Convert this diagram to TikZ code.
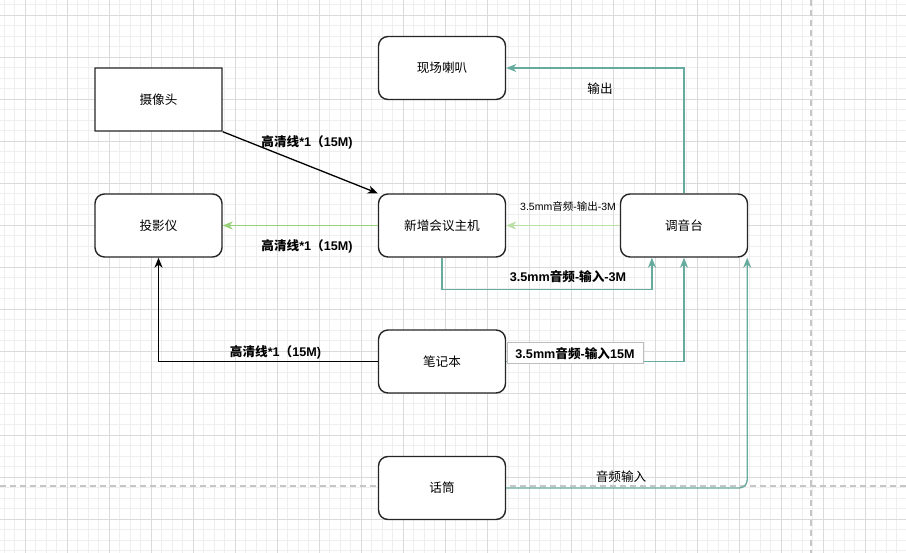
\documentclass[tikz,border=0pt]{standalone}
\usepackage{fontspec}
\setmainfont{Liberation Sans}
\newfontfamily\cjk{Noto Sans CJK SC}
\usetikzlibrary{arrows.meta,calc}
\definecolor{tealline}{HTML}{67AB9F}
\definecolor{greenA}{HTML}{97D077}
\definecolor{greenB}{HTML}{B9E0A5}
\definecolor{gridminor}{HTML}{EFEFEF}
\definecolor{gridmajor}{HTML}{DADADA}
\definecolor{pagebrk}{HTML}{C6C6C6}
\definecolor{lblborder}{HTML}{BDBDBD}
\begin{document}
\begin{tikzpicture}[x=1pt,y=-1pt,
  box/.style={draw=black!85, line width=1.4pt, fill=white, minimum width=127pt, minimum height=63pt, inner sep=0pt, font=\cjk\fontsize{12.6}{15}\selectfont},
  sbox/.style={box, rounded corners=0.05pt},
  rbox/.style={box, rounded corners=9.5pt},
  conn/.style={line width=1.3pt, -{Stealth[length=10pt,width=8pt,inset=3pt]}},
  lblb/.style={font=\fontsize{12.6}{15}\selectfont\bfseries, inner sep=0pt},
  lblr/.style={font=\fontsize{12.6}{15}\selectfont, inner sep=0pt},
  lbls/.style={font=\fontsize{10.5}{12}\selectfont, inner sep=0pt}]
\useasboundingbox (0,0) rectangle (906,553);
\fill[white] (0,0) rectangle (906,553);
% grid
\foreach \i in {0,...,86} \draw[gridminor, line width=0.8pt] ({4+10.5*\i},0) -- ({4+10.5*\i},553);
\foreach \i in {0,...,52} \draw[gridminor, line width=0.8pt] (0,{4.5+10.5*\i}) -- (906,{4.5+10.5*\i});
\foreach \i in {0,...,21} \draw[gridmajor, line width=0.9pt] ({25+42*\i},0) -- ({25+42*\i},553);
\foreach \i in {0,...,12} \draw[gridmajor, line width=0.9pt] (0,{15+42*\i}) -- (906,{15+42*\i});
% page breaks
\draw[pagebrk, line width=1.2pt, dash pattern=on 6pt off 4pt] (811,0) -- (811,553);
\draw[pagebrk, line width=1.2pt, dash pattern=on 6pt off 4pt] (0,486) -- (906,486);
% nodes
\node[sbox] (cam)    at (158.5,99.5) {摄像头};
\node[rbox] (proj)   at (158.5,225.5) {投影仪};
\node[rbox] (spk)    at (442,68) {现场喇叭};
\node[rbox] (host)   at (442,225.5) {新增会议主机};
\node[rbox] (mixer)  at (684,225.5) {调音台};
\node[rbox] (laptop) at (442,361.5) {笔记本};
\node[rbox] (mic)    at (442,488) {话筒};
% edges
\draw[conn, black] (cam.south east) -- (host.north west);
\draw[conn, greenA] (host.west) -- (proj.east);
\draw[conn, greenB] (mixer.west) -- (host.east);
\draw[conn, tealline] (host.south) -- ++(0,32) -| ($(mixer.south west)!0.25!(mixer.south east)$);
\draw[conn, black] (laptop.west) -| (proj.south);
\draw[conn, tealline] (laptop.east) -| (mixer.south);
\draw[conn, tealline, rounded corners=8pt] (mic.east) -| ($(mixer.south east)+(-1,0)$);
\draw[conn, tealline] (mixer.north) |- (spk.east);
% labels
\node[lblb] (l1) at (307,142) {{\cjk\bfseries 高清线}*1{\cjk\bfseries （}15M)};
\node[lblb] (l2) at (307,246) {{\cjk\bfseries 高清线}*1{\cjk\bfseries （}15M)};
\node[lbls] (l3) at (568,206) {3.5mm{\cjk 音频}-{\cjk 输出}-3M};
\node[lblb] (l4) at (568,277) {3.5mm{\cjk\bfseries 音频}-{\cjk\bfseries 输入}-3M};
\node[lblb] (l5) at (275.5,352) {{\cjk\bfseries 高清线}*1{\cjk\bfseries （}15M)};
\node[lblb, draw=lblborder, line width=1pt, fill=white, minimum width=136pt, minimum height=21pt] (l6) at (575,353.5) {3.5mm{\cjk\bfseries 音频}-{\cjk\bfseries 输入}15M};
\node[lblr] (l7) at (621,477) {\cjk 音频输入};
\node[lblr] (l8) at (600,89) {\cjk 输出};
\end{tikzpicture}
\end{document}
